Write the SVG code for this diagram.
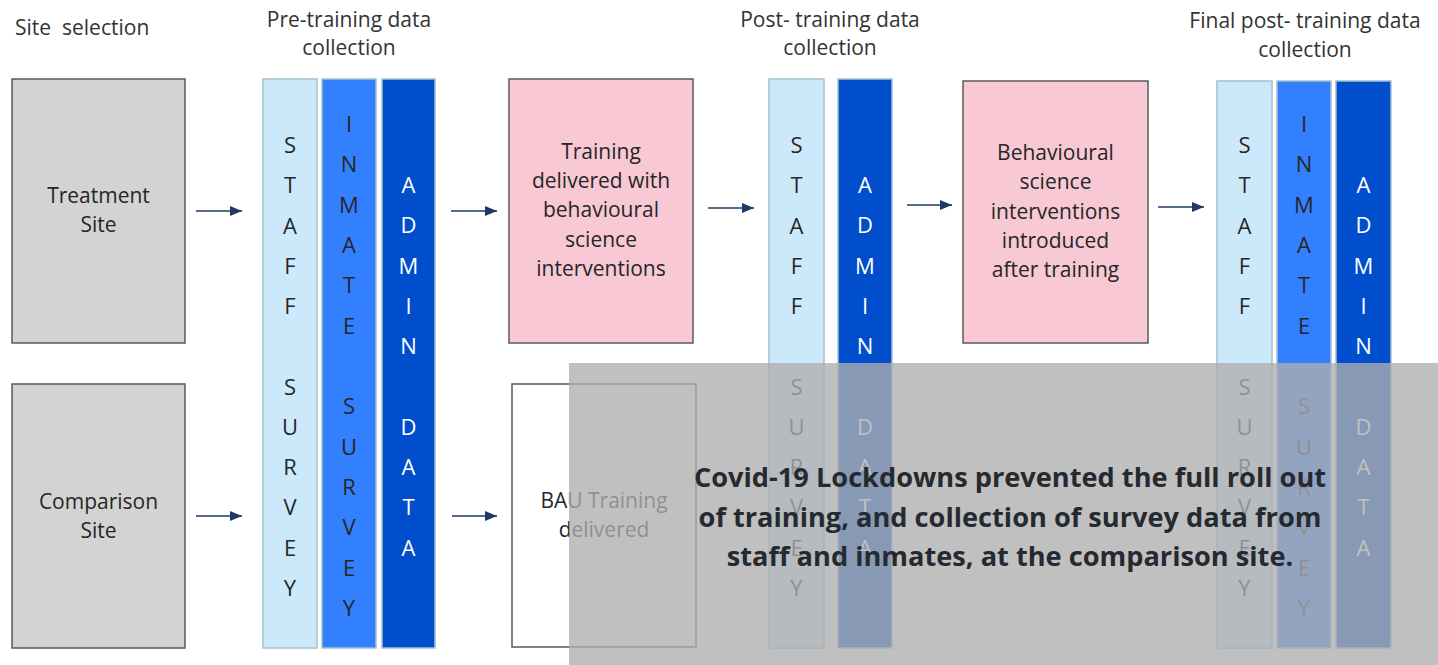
<svg xmlns="http://www.w3.org/2000/svg" width="1438" height="665" viewBox="0 0 1438 665">
<style>
text{font-family:"Open Sans","Liberation Sans",sans-serif;fill:#262626;}
.h{font-size:21px;fill:#333;text-anchor:middle;}
.hl{font-size:21px;fill:#333;}
.bt{font-size:21px;text-anchor:middle;}
.site{fill:#d3d3d3;stroke:#595959;stroke-width:1.5;}
.pink{fill:#f8c9d4;stroke:#595959;stroke-width:1.5;}
.white{fill:#ffffff;stroke:#595959;stroke-width:1.5;}
.c1{fill:#cce9fb;stroke:#a7c0cc;stroke-width:1.5;}
.c2{fill:#3380ff;stroke:#a7c0cc;stroke-width:1.5;}
.c3{fill:#004ecc;stroke:#a7c0cc;stroke-width:1.5;}
.l{font-size:22px;text-anchor:middle;fill:#262626;}
.lw{font-size:22px;text-anchor:middle;fill:#ffffff;}
.conn{stroke:#203864;stroke-width:1.6;fill:none;marker-end:url(#ah);}
.ov{fill:#aeaeae;fill-opacity:0.78;}
.ot{font-size:27.2px;font-weight:bold;text-anchor:middle;fill:#252a30;}
</style>
<defs>
<marker id="ah" markerUnits="userSpaceOnUse" markerWidth="12" markerHeight="10" refX="12" refY="5" orient="auto">
<path d="M0,0 L12,5 L0,10 z" fill="#203864"/>
</marker>
</defs>
<rect width="1438" height="665" fill="#ffffff"/>

<g id="headings">
<text class="hl" x="15" y="35">Site&#160; selection</text>
<text class="h" x="349" y="27">Pre-training data</text>
<text class="h" x="349" y="55">collection</text>
<text class="h" x="830" y="27">Post- training data</text>
<text class="h" x="830" y="55">collection</text>
<text class="h" x="1305" y="28">Final post- training data</text>
<text class="h" x="1305" y="56.5">collection</text>
</g>

<g id="treatment-site">
<rect class="site" x="12" y="79" width="173" height="264"/>
<text class="bt" x="98.5" y="203">Treatment</text>
<text class="bt" x="98.5" y="232">Site</text>
</g>
<g id="comparison-site">
<rect class="site" x="12" y="384" width="173" height="264"/>
<text class="bt" x="98.5" y="509">Comparison</text>
<text class="bt" x="98.5" y="538">Site</text>
</g>

<g id="pre-staff-survey">
<rect class="c1" x="263" y="79" width="54" height="569"/>
<text class="l"><tspan x="290" y="153">S</tspan><tspan x="290" y="193.3">T</tspan><tspan x="290" y="233.5">A</tspan><tspan x="290" y="273.8">F</tspan><tspan x="290" y="314.1">F</tspan><tspan x="290" y="394.6">S</tspan><tspan x="290" y="434.9">U</tspan><tspan x="290" y="475.2">R</tspan><tspan x="290" y="515.4">V</tspan><tspan x="290" y="555.7">E</tspan><tspan x="290" y="596">Y</tspan></text>
</g>
<g id="pre-inmate-survey">
<rect class="c2" x="322" y="79" width="54" height="569"/>
<text class="l"><tspan x="349" y="132">I</tspan><tspan x="349" y="172.3">N</tspan><tspan x="349" y="212.7">M</tspan><tspan x="349" y="253">A</tspan><tspan x="349" y="293.3">T</tspan><tspan x="349" y="333.7">E</tspan><tspan x="349" y="414.3">S</tspan><tspan x="349" y="454.7">U</tspan><tspan x="349" y="495">R</tspan><tspan x="349" y="535.3">V</tspan><tspan x="349" y="575.7">E</tspan><tspan x="349" y="616">Y</tspan></text>
</g>
<g id="pre-admin-data">
<rect class="c3" x="382" y="79" width="53" height="569"/>
<text class="lw"><tspan x="408.5" y="193">A</tspan><tspan x="408.5" y="233.3">D</tspan><tspan x="408.5" y="273.6">M</tspan><tspan x="408.5" y="313.9">I</tspan><tspan x="408.5" y="354.2">N</tspan><tspan x="408.5" y="434.8">D</tspan><tspan x="408.5" y="475.1">A</tspan><tspan x="408.5" y="515.4">T</tspan><tspan x="408.5" y="555.7">A</tspan></text>
</g>

<g id="training-delivered">
<rect class="pink" x="509" y="79" width="184" height="264"/>
<text class="bt" x="601" y="158.5">Training</text>
<text class="bt" x="601" y="187.5">delivered with</text>
<text class="bt" x="601" y="217">behavioural</text>
<text class="bt" x="601" y="246.5">science</text>
<text class="bt" x="601" y="276">interventions</text>
</g>
<g id="bau-training">
<rect class="white" x="512" y="384" width="184" height="263"/>
<text class="bt" x="604" y="508">BAU Training</text>
<text class="bt" x="604" y="537">delivered</text>
</g>

<g id="post-staff-survey">
<rect class="c1" x="769" y="79" width="55" height="569"/>
<text class="l"><tspan x="796.5" y="153">S</tspan><tspan x="796.5" y="193.3">T</tspan><tspan x="796.5" y="233.5">A</tspan><tspan x="796.5" y="273.8">F</tspan><tspan x="796.5" y="314.1">F</tspan><tspan x="796.5" y="394.6">S</tspan><tspan x="796.5" y="434.9">U</tspan><tspan x="796.5" y="475.2">R</tspan><tspan x="796.5" y="515.4">V</tspan><tspan x="796.5" y="555.7">E</tspan><tspan x="796.5" y="596">Y</tspan></text>
</g>
<g id="post-admin-data">
<rect class="c3" x="838" y="79" width="54" height="569"/>
<text class="lw"><tspan x="865" y="193">A</tspan><tspan x="865" y="233.3">D</tspan><tspan x="865" y="273.6">M</tspan><tspan x="865" y="313.9">I</tspan><tspan x="865" y="354.2">N</tspan><tspan x="865" y="434.8">D</tspan><tspan x="865" y="475.1">A</tspan><tspan x="865" y="515.4">T</tspan><tspan x="865" y="555.7">A</tspan></text>
</g>

<g id="behavioural-interventions">
<rect class="pink" x="963" y="81" width="185" height="262"/>
<text class="bt" x="1055.5" y="159.5">Behavioural</text>
<text class="bt" x="1055.5" y="189">science</text>
<text class="bt" x="1055.5" y="218.5">interventions</text>
<text class="bt" x="1055.5" y="248">introduced</text>
<text class="bt" x="1055.5" y="277">after training</text>
</g>

<g id="final-staff-survey">
<rect class="c1" x="1217" y="81" width="55" height="567"/>
<text class="l"><tspan x="1244.5" y="153">S</tspan><tspan x="1244.5" y="193.3">T</tspan><tspan x="1244.5" y="233.5">A</tspan><tspan x="1244.5" y="273.8">F</tspan><tspan x="1244.5" y="314.1">F</tspan><tspan x="1244.5" y="394.6">S</tspan><tspan x="1244.5" y="434.9">U</tspan><tspan x="1244.5" y="475.2">R</tspan><tspan x="1244.5" y="515.4">V</tspan><tspan x="1244.5" y="555.7">E</tspan><tspan x="1244.5" y="596">Y</tspan></text>
</g>
<g id="final-inmate-survey">
<rect class="c2" x="1277" y="81" width="54" height="567"/>
<text class="l"><tspan x="1304" y="132">I</tspan><tspan x="1304" y="172.3">N</tspan><tspan x="1304" y="212.7">M</tspan><tspan x="1304" y="253">A</tspan><tspan x="1304" y="293.3">T</tspan><tspan x="1304" y="333.7">E</tspan><tspan x="1304" y="414.3">S</tspan><tspan x="1304" y="454.7">U</tspan><tspan x="1304" y="495">R</tspan><tspan x="1304" y="535.3">V</tspan><tspan x="1304" y="575.7">E</tspan><tspan x="1304" y="616">Y</tspan></text>
</g>
<g id="final-admin-data">
<rect class="c3" x="1336" y="81" width="55" height="567"/>
<text class="lw"><tspan x="1363.5" y="193">A</tspan><tspan x="1363.5" y="233.3">D</tspan><tspan x="1363.5" y="273.6">M</tspan><tspan x="1363.5" y="313.9">I</tspan><tspan x="1363.5" y="354.2">N</tspan><tspan x="1363.5" y="434.8">D</tspan><tspan x="1363.5" y="475.1">A</tspan><tspan x="1363.5" y="515.4">T</tspan><tspan x="1363.5" y="555.7">A</tspan></text>
</g>

<g id="connectors">
<line class="conn" x1="196" y1="211" x2="242" y2="211"/>
<line class="conn" x1="196" y1="516" x2="242" y2="516"/>
<line class="conn" x1="451" y1="211" x2="497" y2="211"/>
<line class="conn" x1="452" y1="516" x2="497" y2="516"/>
<line class="conn" x1="708" y1="208" x2="754" y2="208"/>
<line class="conn" x1="907" y1="205" x2="952" y2="205"/>
<line class="conn" x1="1158" y1="207" x2="1204" y2="207"/>
</g>

<g id="covid-overlay">
<rect class="ov" x="569" y="363" width="869" height="302"/>
<text class="ot" x="1010" y="487">Covid-19 Lockdowns prevented the full roll out</text>
<text class="ot" x="1010" y="526.5">of training, and collection of survey data from</text>
<text class="ot" x="1010" y="566">staff and inmates, at the comparison site.</text>
</g>
</svg>
